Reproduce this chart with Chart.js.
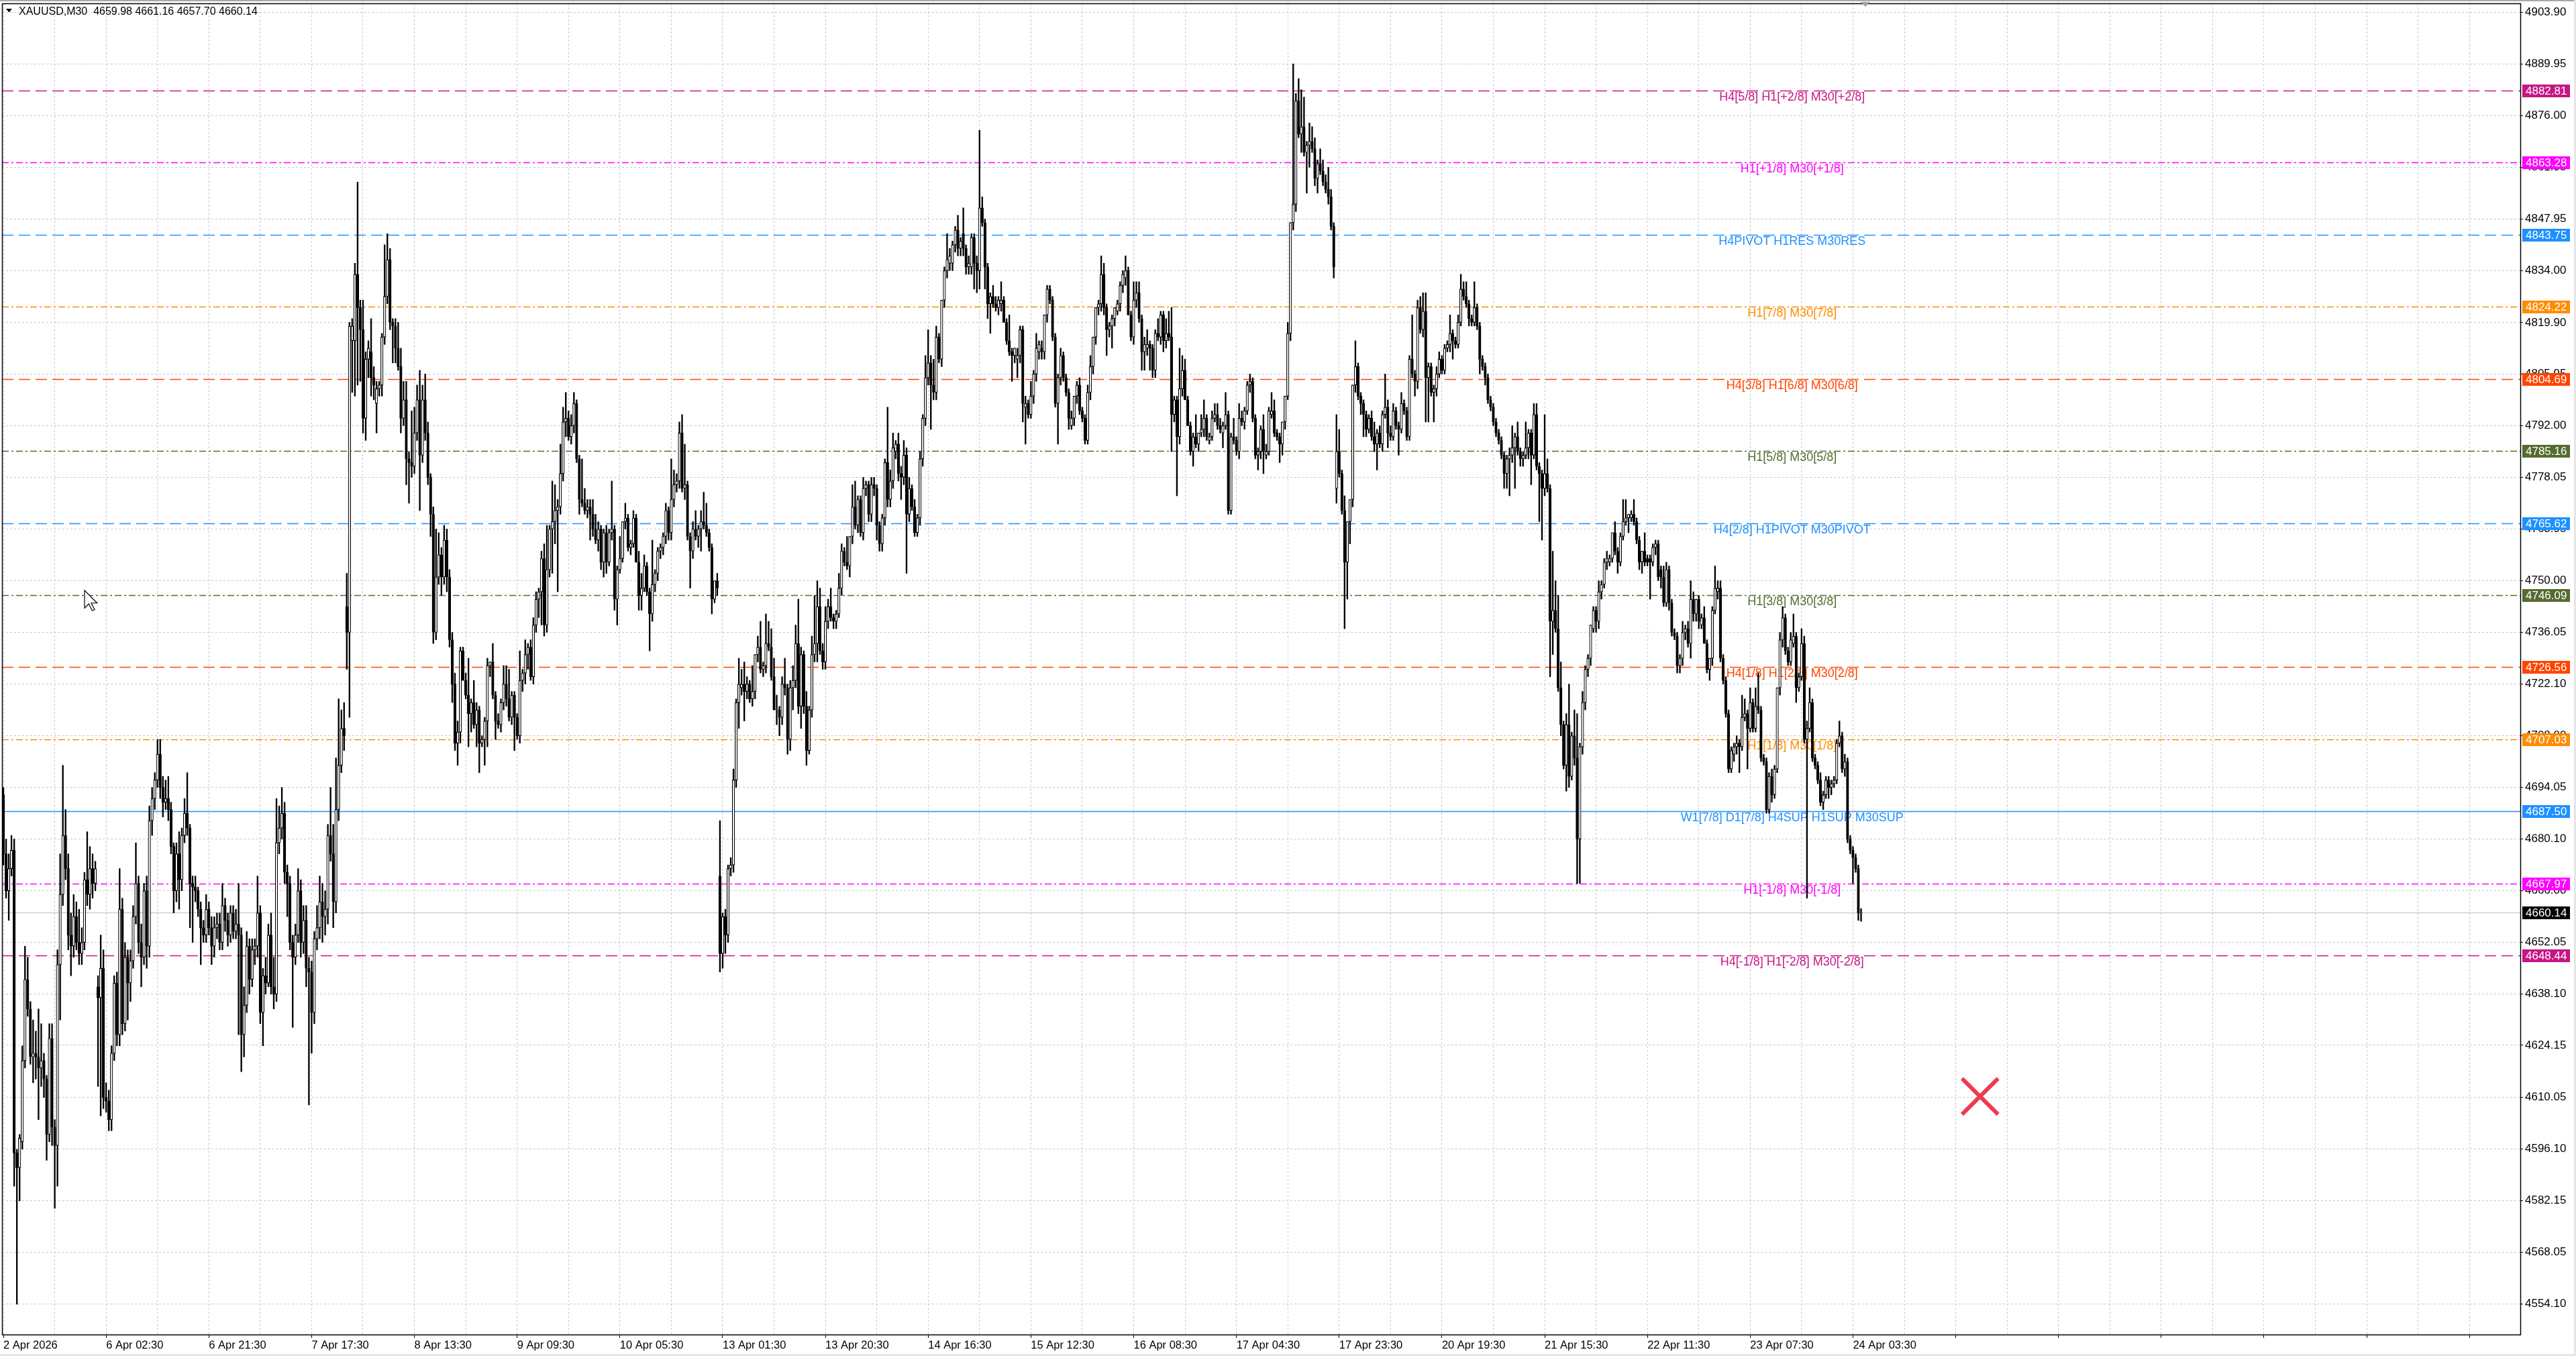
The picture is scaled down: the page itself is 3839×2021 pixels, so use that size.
<!DOCTYPE html>
<html>
<head>
<meta charset="utf-8">
<title>XAUUSD,M30</title>
<script src="https://cdn.jsdelivr.net/npm/chart.js"></script>
<style>
html, body { margin: 0; padding: 0; background: #fff; }
#wrap { position: relative; width: 3839px; height: 2021px; overflow: hidden; }
#chart { position: absolute; left: 0; top: 0; }
#caption { position: absolute; left: 28px; top: 9px; font: 16px/16px "Liberation Sans", Arial, sans-serif; color: #000; white-space: pre; }
</style>
</head>
<body>
<div id="wrap">
	<canvas id="chart" width="3839" height="2021"></canvas>
	<div id="caption">XAUUSD,M30  4659.98 4661.16 4657.70 4660.14</div>
</div>
<script>
// time axis labels, one every 38 bars
var dateLabels = ["2 Apr 2026", "6 Apr 02:30", "6 Apr 21:30", "7 Apr 17:30", "8 Apr 13:30", "9 Apr 09:30",
	"10 Apr 05:30", "13 Apr 01:30", "13 Apr 20:30", "14 Apr 16:30", "15 Apr 12:30", "16 Apr 08:30",
	"17 Apr 04:30", "17 Apr 23:30", "20 Apr 19:30", "21 Apr 15:30", "22 Apr 11:30", "23 Apr 07:30", "24 Apr 03:30"];
var barsPerLabel = 38;

// price scale labels on the right
var yTickValues = [4903.90, 4889.95, 4876.00, 4861.95, 4847.95, 4834.00, 4819.90, 4805.95, 4792.00, 4778.05,
	4763.95, 4750.00, 4736.05, 4722.10, 4708.00, 4694.05, 4680.10, 4666.00, 4652.05, 4638.10, 4624.15,
	4610.05, 4596.10, 4582.15, 4568.05, 4554.10];

// murrey math levels
var levelPrices = [4882.81, 4863.28, 4843.75, 4824.22, 4804.69, 4785.16, 4765.62, 4746.09, 4726.56, 4707.03, 4687.50, 4667.97, 4648.44];
var levelNames = ["H4[5/8] H1[+2/8] M30[+2/8]", "H1[+1/8] M30[+1/8]", "H4PIVOT H1RES M30RES", "H1[7/8] M30[7/8]",
	"H4[3/8] H1[6/8] M30[6/8]", "H1[5/8] M30[5/8]", "H4[2/8] H1PIVOT M30PIVOT", "H1[3/8] M30[3/8]",
	"H4[1/8] H1[2/8] M30[2/8]", "H1[1/8] M30[1/8]", "W1[7/8] D1[7/8] H4SUP H1SUP M30SUP", "H1[-1/8] M30[-1/8]",
	"H4[-1/8] H1[-2/8] M30[-2/8]"];
var levelColors = ["#C71585", "#FF00FF", "#1E90FF", "#FF8C00", "#FF4500", "#556B2F", "#1E90FF", "#556B2F",
	"#FF4500", "#FF8C00", "#1E90FF", "#FF00FF", "#C71585"];
var levelStyles = ["dash", "dashdot", "dash", "dashdot", "dash", "dashdot", "dash", "dashdot", "dash", "dashdot", "solid", "dashdot", "dash"];
var levelTextBar = 661.5;

var currentPrice = 4660.14;
var closeMark = [731, 4610.3];   // red cross object [bar, price]

// candles: [open, high, low, close]
var thuApr2 = [
	[4692,4694,4673,4676],[4676,4680,4664,4666],[4666,4676,4658,4672],[4672,4681,4670,4677],[4677,4680,4586,4595],
	[4595,4596,4554,4591],[4591,4600,4582,4599],[4598,4624,4596,4620],[4620,4651,4618,4642],[4642,4648,4632,4634],
	[4634,4636,4619,4621],[4621,4631,4614,4622],[4622,4628,4615,4621],[4621,4634,4604,4618],[4618,4630,4613,4620],
	[4620,4622,4610,4615],[4615,4616,4593,4600],[4600,4630,4598,4626],[4626,4630,4597,4602],[4602,4604,4580,4597],
	[4597,4650,4586,4646],[4646,4676,4631,4665],[4665,4700,4662,4681],[4681,4688,4669,4672],[4672,4676,4650,4654],
	[4654,4660,4643,4651],[4651,4665,4648,4659],[4659,4663,4650,4652],[4652,4661,4646,4649],[4649,4656,4646,4652],
	[4652,4671,4650,4669],[4669,4682,4662,4665],[4665,4678,4661,4672],[4672,4676,4664,4668],[4668,4674,4666,4672]
];
var weekApr6 = [
	[4640,4643,4613,4637],[4637,4654,4605,4645],[4645,4650,4607,4610],[4610,4614,4606,4609],[4609,4612,4601,4604],[4604,4624,4601,4622],[4622,4643,4620,4641],[4641,4644,4624,4627],[4627,4672,4624,4661],[4661,4664,4627,4630],
	[4630,4652,4628,4648],[4648,4650,4631,4641],[4641,4650,4636,4647],[4647,4662,4645,4659],[4659,4679,4657,4668],[4668,4670,4649,4652],[4652,4657,4640,4648],[4648,4668,4646,4666],[4666,4670,4645,4651],[4651,4689,4648,4685],
	[4685,4694,4681,4691],[4691,4698,4688,4696],[4696,4707,4694,4703],[4703,4707,4691,4694],[4694,4697,4686,4690],[4690,4696,4688,4691],[4691,4697,4685,4688],[4688,4690,4676,4678],[4678,4679,4660,4666],[4666,4679,4663,4676],
	[4676,4682,4661,4669],[4669,4683,4666,4681],[4681,4691,4679,4687],[4687,4698,4681,4683],[4683,4684,4656,4668],[4668,4670,4652,4667],[4667,4670,4663,4666],[4666,4667,4659,4661],[4661,4663,4646,4656],[4656,4658,4652,4654],
	[4654,4665,4652,4661],[4661,4663,4654,4656],[4656,4659,4646,4651],[4651,4659,4648,4656],[4656,4660,4653,4657],[4657,4660,4650,4652],[4652,4668,4650,4662],[4662,4664,4655,4658],[4658,4660,4651,4654],[4654,4662,4652,4660],
	[4660,4662,4653,4655],[4655,4661,4653,4657],[4657,4668,4627,4654],[4654,4656,4617,4627],[4627,4640,4621,4635],[4635,4655,4633,4651],[4651,4653,4638,4642],[4642,4653,4640,4650],[4650,4653,4646,4651],[4651,4670,4648,4660],
	[4660,4662,4630,4633],[4633,4645,4624,4643],[4643,4648,4638,4641],[4641,4657,4640,4654],[4654,4660,4638,4640],[4640,4648,4634,4638],[4638,4691,4636,4679],[4679,4689,4676,4683],[4683,4694,4680,4687],[4687,4690,4668,4671],
	[4671,4673,4659,4668],[4668,4670,4650,4652],[4652,4654,4629,4648],[4648,4657,4646,4654],[4654,4672,4652,4666],[4666,4669,4648,4652],[4652,4662,4649,4658],[4658,4662,4640,4645],[4645,4648,4608,4644],[4644,4647,4622,4633],
	[4633,4655,4630,4653],[4653,4662,4650,4656],[4656,4670,4653,4663],[4663,4668,4652,4659],[4659,4666,4654,4661],[4661,4684,4657,4681],[4681,4694,4674,4676],[4676,4684,4656,4663],[4663,4702,4660,4688],[4688,4718,4685,4700],
	[4700,4715,4698,4710],[4710,4717,4704,4708],[4743,4752,4726,4736],[4736,4820,4713,4819],[4815,4821,4801,4819],[4815,4836,4800,4833],[4833,4858,4803,4824],[4824,4826,4804,4818],[4818,4826,4790,4794],[4794,4812,4788,4810],
	[4810,4815,4805,4813],[4812,4821,4800,4805],[4805,4808,4799,4803],[4798,4804,4790,4802],[4802,4804,4800,4803],[4803,4817,4800,4816],[4816,4841,4814,4827],[4827,4844,4825,4837],[4837,4840,4818,4820],[4820,4821,4809,4819],
	[4819,4821,4809,4813],[4813,4820,4807,4808],[4808,4813,4790,4794],[4794,4804,4792,4799],[4799,4804,4776,4783],[4783,4785,4771,4782],[4782,4796,4778,4781],[4781,4797,4779,4790],[4790,4803,4788,4799],[4799,4807,4769,4784],
	[4784,4803,4782,4799],[4799,4806,4788,4790],[4790,4793,4776,4778],[4778,4779,4762,4768],[4768,4770,4733,4736],[4736,4764,4734,4751],[4751,4763,4749,4757],[4757,4759,4746,4751],[4751,4765,4749,4761],[4761,4764,4747,4751],
	[4751,4753,4732,4734],[4734,4736,4717,4722],[4722,4725,4704,4706],[4706,4712,4700,4709],[4709,4732,4706,4731],[4731,4732,4723,4723],[4723,4725,4718,4719],[4719,4729,4705,4714],[4714,4718,4709,4717],[4717,4723,4710,4711],
	[4711,4717,4705,4715],[4715,4716,4698,4706],[4706,4708,4705,4707],[4707,4713,4700,4712],[4712,4729,4705,4727],[4727,4728,4724,4728],[4728,4733,4718,4719],[4719,4720,4707,4712],[4712,4714,4710,4711],[4711,4718,4709,4717],
	[4717,4727,4715,4722],[4722,4727,4716,4718],[4718,4726,4712,4713],[4713,4720,4711,4719],[4719,4720,4704,4713],[4713,4714,4707,4708],[4708,4731,4706,4723],[4723,4726,4720,4725],[4725,4734,4722,4730],[4730,4733,4726,4732],
	[4732,4734,4723,4724],[4724,4740,4722,4738],[4738,4747,4736,4745],[4745,4748,4740,4747],[4747,4758,4738,4756],[4756,4760,4735,4738],[4738,4765,4736,4753],[4753,4765,4751,4764],[4764,4777,4752,4766],[4766,4776,4760,4769],
	[4769,4772,4747,4770],[4770,4787,4768,4779],[4779,4797,4777,4793],[4793,4801,4789,4794],[4794,4796,4788,4789],[4789,4795,4787,4792],[4792,4801,4790,4798],[4798,4799,4782,4783],[4783,4784,4768,4772],[4772,4783,4770,4771],
	[4771,4775,4768,4769],[4769,4772,4767,4770],[4770,4772,4761,4768],[4768,4772,4762,4764],[4764,4768,4760,4761],[4761,4766,4758,4764],[4764,4765,4753,4755],[4755,4764,4751,4763],[4763,4765,4752,4755],[4755,4764,4754,4763],
	[4763,4777,4761,4764],[4764,4765,4742,4745],[4745,4754,4738,4753],[4753,4762,4752,4756],[4756,4766,4755,4766],[4766,4771,4764,4767],[4767,4768,4758,4759],[4759,4761,4757,4760],[4760,4769,4759,4767],[4767,4768,4755,4755],
	[4755,4758,4742,4746],[4746,4752,4742,4748],[4748,4757,4747,4754],[4754,4755,4746,4747],[4747,4748,4731,4741],[4741,4761,4739,4749],[4749,4753,4747,4752],[4752,4759,4750,4758],[4758,4760,4756,4759],[4759,4763,4757,4762],
	[4762,4771,4760,4769],[4769,4770,4761,4763],[4763,4783,4761,4772],[4772,4780,4770,4776],[4776,4779,4774,4777],[4777,4793,4775,4790],[4790,4795,4774,4775],[4775,4787,4772,4776],[4776,4777,4761,4762],[4762,4763,4748,4758],
	[4758,4766,4756,4764],[4764,4769,4761,4762],[4762,4765,4759,4764],[4764,4769,4758,4766],[4766,4774,4764,4765],[4765,4771,4762,4763],[4763,4764,4758,4759],[4759,4760,4741,4745],[4745,4750,4744,4750],[4750,4752,4746,4748]
];
var weekApr13 = [
	[4670,4685,4644,4649],[4649,4660,4645,4659],[4659,4661,4649,4654],[4654,4673,4652,4672],[4672,4675,4670,4673],[4673,4699,4671,4696],[4696,4718,4694,4717],[4717,4729,4710,4722],[4721,4726,4719,4722],[4722,4728,4712,4720],
	[4720,4724,4718,4722],[4722,4723,4717,4718],[4718,4727,4716,4720],[4720,4730,4718,4730],[4730,4735,4728,4732],[4732,4739,4725,4726],[4726,4728,4724,4727],[4727,4741,4725,4733],[4733,4739,4731,4732],[4732,4737,4723,4724],
	[4724,4729,4715,4715],[4715,4719,4711,4715],[4715,4716,4708,4713],[4713,4724,4711,4722],[4722,4729,4719,4721],[4721,4722,4703,4707],[4707,4723,4704,4721],[4721,4727,4715,4723],[4723,4738,4721,4733],[4733,4745,4714,4716],
	[4716,4732,4710,4730],[4730,4731,4714,4716],[4716,4720,4700,4704],[4704,4716,4703,4715],[4715,4735,4713,4730],[4730,4746,4728,4733],[4733,4750,4728,4743],[4743,4748,4730,4731],[4731,4733,4726,4728],[4728,4743,4726,4739],
	[4739,4745,4737,4743],[4743,4748,4739,4740],[4740,4741,4737,4739],[4739,4742,4737,4741],[4741,4752,4740,4748],[4748,4760,4746,4758],[4758,4759,4754,4755],[4755,4762,4753,4754],[4754,4762,4751,4762],[4762,4776,4760,4770],
	[4770,4777,4764,4765],[4765,4773,4763,4772],[4772,4773,4762,4763],[4763,4778,4761,4775],[4775,4777,4773,4776],[4776,4777,4766,4768],[4768,4778,4766,4776],[4776,4778,4773,4775],[4775,4776,4761,4765],[4765,4766,4758,4760],
	[4760,4768,4758,4767],[4767,4783,4765,4782],[4782,4797,4770,4772],[4772,4780,4770,4777],[4777,4790,4775,4786],[4785,4788,4783,4787],[4787,4790,4777,4779],[4779,4781,4772,4778],[4778,4788,4776,4784],[4784,4786,4752,4768],
	[4768,4778,4766,4775],[4775,4776,4769,4770],[4770,4772,4762,4763],[4763,4768,4762,4767],[4767,4785,4765,4783],[4783,4795,4781,4794],[4794,4811,4792,4805],[4805,4818,4803,4809],[4809,4811,4791,4803],[4803,4810,4799,4801],
	[4801,4819,4799,4816],[4816,4817,4809,4810],[4810,4826,4808,4826],[4826,4835,4824,4834],[4834,4844,4832,4837],[4836,4840,4834,4838],[4836,4842,4834,4841],[4841,4846,4839,4845],[4845,4849,4838,4840],[4840,4843,4838,4842],
	[4844,4851,4838,4840],[4840,4841,4833,4835],[4835,4838,4833,4836],[4835,4844,4833,4843],[4843,4844,4829,4836],[4836,4838,4828,4834],[4834,4872,4829,4851],[4851,4854,4846,4847],[4847,4848,4829,4835],[4835,4836,4821,4825],
	[4825,4828,4817,4827],[4827,4830,4824,4825],[4825,4827,4823,4824],[4824,4827,4822,4826],[4825,4831,4823,4826],[4826,4827,4820,4820],[4820,4821,4814,4815],[4815,4822,4811,4812],[4812,4813,4804,4811],[4811,4813,4809,4813],
	[4810,4813,4805,4811],[4811,4819,4809,4818],[4818,4819,4793,4798],[4797,4800,4787,4798],[4798,4799,4794,4795],[4795,4804,4794,4800],[4800,4807,4798,4806],[4806,4817,4804,4813],[4812,4815,4810,4814],[4813,4815,4810,4812],
	[4812,4822,4810,4822],[4822,4830,4820,4829],[4829,4830,4825,4826],[4826,4827,4815,4816],[4816,4817,4797,4798],[4798,4806,4787,4805],[4805,4813,4803,4811],[4811,4812,4804,4805],[4805,4806,4800,4801],[4801,4802,4791,4794],
	[4792,4796,4791,4794],[4794,4800,4792,4800],[4800,4804,4798,4803],[4803,4805,4795,4796],[4796,4797,4793,4794],[4794,4795,4787,4788],[4788,4803,4787,4801],[4801,4811,4799,4808],[4808,4816,4806,4816],[4816,4824,4814,4824],
	[4824,4826,4822,4825],[4825,4838,4823,4833],[4833,4836,4822,4824],[4824,4825,4811,4818],[4818,4820,4816,4819],[4819,4822,4813,4821],[4821,4824,4819,4824],[4823,4826,4822,4825],[4825,4831,4823,4830],[4830,4834,4828,4833],
	[4832,4838,4830,4834],[4834,4835,4822,4822],[4822,4823,4815,4816],[4816,4831,4814,4826],[4826,4831,4824,4828],[4828,4831,4820,4821],[4821,4822,4807,4812],[4812,4816,4807,4814],[4813,4818,4811,4814],[4814,4815,4807,4813],
	[4813,4814,4805,4807],[4807,4818,4805,4817],[4817,4821,4815,4816],[4816,4823,4814,4822],[4822,4823,4812,4815],[4815,4821,4813,4817],[4817,4823,4815,4816],[4816,4824,4785,4795],[4795,4800,4793,4799],[4799,4800,4773,4789],
	[4789,4813,4787,4802],[4802,4811,4800,4807],[4807,4810,4799,4799],[4799,4800,4792,4792],[4792,4793,4784,4785],[4785,4790,4781,4789],[4789,4795,4786,4787],[4787,4790,4785,4790],[4790,4795,4789,4791],[4791,4799,4789,4794],
	[4794,4795,4788,4789],[4788,4790,4787,4789],[4789,4796,4788,4794],[4794,4798,4793,4795],[4795,4798,4791,4792],[4792,4794,4790,4791],[4790,4793,4786,4792],[4792,4801,4791,4795],[4795,4796,4768,4769],[4769,4790,4768,4789],
	[4789,4794,4787,4788],[4788,4789,4784,4785],[4785,4798,4783,4794],[4794,4796,4792,4793],[4793,4797,4791,4796],[4796,4804,4795,4803],[4803,4806,4801,4804],[4804,4805,4793,4794],[4794,4795,4783,4784],[4784,4786,4780,4785],
	[4785,4792,4783,4791],[4791,4795,4779,4785],[4784,4787,4783,4785],[4785,4797,4784,4796],[4795,4801,4794,4796],[4796,4799,4789,4790],[4790,4791,4788,4789],[4789,4790,4782,4787],[4787,4793,4784,4793],[4793,4800,4791,4800],
	[4800,4820,4799,4817],[4817,4847,4815,4847],[4847,4890,4845,4852],[4852,4882,4850,4880],[4880,4886,4870,4871],[4871,4883,4866,4873],[4873,4881,4865,4866],[4866,4869,4855,4868],[4868,4874,4862,4869],[4869,4873,4866,4867],
	[4867,4870,4857,4859],[4859,4864,4855,4863],[4863,4867,4860,4861],[4861,4864,4857,4858],[4858,4860,4855,4856],[4856,4862,4852,4854],[4854,4856,4845,4846],[4846,4847,4832,4835]
];
var weekApr20 = [
	[4775,4795,4771,4785],[4785,4791,4778,4779],[4779,4780,4768,4769],[4769,4773,4737,4755],[4755,4766,4745,4766],[4766,4772,4760,4772],[4772,4803,4770,4803],[4803,4815,4801,4808],[4808,4809,4799,4800],[4800,4801,4795,4798],
	[4798,4799,4789,4795],[4795,4796,4789,4791],[4791,4795,4790,4794],[4794,4796,4788,4789],[4789,4793,4785,4787],[4787,4791,4780,4790],[4790,4792,4786,4787],[4787,4796,4785,4795],[4795,4806,4794,4797],[4797,4799,4786,4790],
	[4790,4792,4788,4789],[4789,4798,4788,4796],[4796,4797,4791,4792],[4792,4793,4784,4791],[4791,4801,4790,4798],[4798,4799,4795,4796],[4796,4797,4788,4789],[4789,4811,4788,4810],[4810,4822,4805,4806],[4806,4807,4800,4804],
	[4804,4826,4802,4824],[4824,4827,4817,4818],[4818,4828,4816,4823],[4823,4828,4793,4805],[4805,4809,4793,4808],[4808,4809,4800,4801],[4801,4803,4793,4802],[4802,4808,4800,4806],[4806,4812,4805,4810],[4810,4811,4806,4807],
	[4807,4814,4806,4813],[4813,4815,4812,4814],[4814,4822,4812,4817],[4817,4818,4810,4815],[4815,4816,4813,4814],[4814,4822,4813,4820],[4820,4833,4819,4829],[4829,4831,4826,4827],[4827,4831,4824,4825],[4825,4826,4819,4821],
	[4821,4822,4819,4820],[4820,4831,4819,4824],[4824,4825,4818,4819],[4819,4820,4806,4810],[4810,4811,4807,4808],[4808,4809,4803,4805],[4805,4806,4798,4799],[4799,4800,4796,4797],[4797,4798,4792,4793],[4793,4794,4789,4790],
	[4790,4791,4787,4788],[4788,4789,4783,4784],[4784,4785,4775,4779],[4779,4784,4775,4783],
	[4783,4786,4773,4784],[4784,4792,4782,4786],[4786,4790,4775,4789],[4789,4793,4784,4785],[4785,4786,4781,4783],[4783,4785,4781,4784],[4784,4793,4783,4786],[4786,4791,4783,4790],[4790,4791,4776,4784],[4784,4798,4783,4795],
	[4795,4798,4780,4781],[4781,4782,4766,4779],[4779,4780,4761,4775],[4775,4795,4773,4779],[4779,4783,4774,4775],[4775,4776,4724,4739],[4739,4758,4730,4742],[4742,4750,4736,4737],[4737,4746,4720,4721],[4721,4728,4708,4711],
	[4711,4712,4699,4700],[4700,4714,4693,4711],[4711,4722,4694,4697],[4697,4709,4696,4708],[4708,4715,4700,4702],[4702,4714,4668,4680],[4680,4706,4668,4705],[4705,4720,4703,4717],[4717,4727,4715,4726],[4726,4730,4724,4729],
	[4729,4738,4727,4738],[4737,4743,4736,4742],[4742,4743,4736,4739],[4739,4750,4737,4747],[4747,4750,4745,4749],[4749,4756,4748,4755],[4755,4758,4753,4756],[4755,4757,4754,4756],[4756,4763,4755,4763],[4763,4766,4757,4758],
	[4758,4759,4752,4755],[4755,4763,4754,4762],[4762,4772,4761,4766],[4766,4772,4765,4767],[4767,4768,4763,4768],[4767,4769,4766,4768],[4768,4772,4765,4766],[4766,4767,4760,4761],[4761,4762,4753,4755],[4755,4758,4752,4758],
	[4758,4763,4754,4755],[4756,4757,4754,4755],[4756,4757,4745,4755],[4755,4760,4754,4759],[4759,4761,4757,4760],[4760,4761,4750,4751],[4753,4754,4748,4751],[4751,4754,4743,4744],[4744,4755,4743,4753],[4753,4754,4742,4744],
	[4744,4745,4735,4736],[4736,4737,4734,4735],[4735,4736,4725,4727],[4727,4730,4725,4729],[4729,4739,4727,4736],[4736,4738,4734,4737],[4737,4739,4732,4733],[4733,4750,4729,4745],[4745,4747,4739,4741],[4741,4745,4739,4745],
	[4745,4746,4737,4739],[4738,4741,4737,4740],[4740,4743,4733,4733],[4733,4734,4725,4726],[4726,4729,4723,4729],[4729,4743,4727,4742],[4742,4754,4741,4748],[4747,4750,4745,4748],[4748,4750,4728,4729],[4729,4730,4722,4723],
	[4723,4724,4713,4714],[4714,4715,4698,4699],[4699,4705,4698,4704],[4703,4706,4701,4705],[4705,4708,4703,4706],[4706,4707,4698,4705],[4705,4719,4704,4713],[4713,4718,4712,4714],[4714,4715,4699,4710],[4710,4721,4709,4717],
	[4717,4718,4709,4710],[4710,4721,4709,4716],[4716,4725,4714,4715],[4715,4716,4701,4702],[4702,4703,4700,4701],[4701,4702,4687,4688],[4688,4698,4687,4697],[4697,4699,4690,4692],[4692,4700,4691,4699],[4699,4721,4698,4721],
	[4721,4736,4719,4734],[4734,4743,4732,4740],[4740,4741,4730,4731],[4731,4732,4727,4728],[4728,4736,4727,4734],[4733,4741,4732,4735],[4735,4736,4717,4721],[4721,4725,4720,4724],[4724,4737,4723,4733],[4733,4735,4706,4707],
	[4707,4712,4664,4710],[4710,4721,4709,4717],[4717,4718,4701,4702],[4702,4703,4699,4700],[4700,4701,4695,4696],[4696,4698,4689,4690],[4690,4693,4688,4692],[4692,4697,4691,4696],[4696,4697,4691,4694],[4694,4696,4692,4695],
	[4695,4697,4694,4696],[4696,4707,4695,4706],[4706,4712,4705,4708],[4708,4709,4698,4699],[4699,4703,4697,4701],[4701,4702,4679,4680],[4680,4681,4676,4677],[4677,4678,4668,4675],[4675,4676,4671,4672],[4672,4673,4658,4660],
	[4659.98,4661.16,4657.70,4660.14]
];

// visible window
var xMin = -0.5, xMax = 930.8;
var yMin = 4545.8, yMax = 4906.4;

var dashes = { dash: [17, 8], dashdot: [10, 4, 3, 4], solid: [] };
var fontFamily = '"Liberation Sans", Arial, sans-serif';

var levelsPlugin = {
	id: 'levels',
	beforeDatasetsDraw: function(chart) {
		var c = chart.ctx, a = chart.chartArea, ys = chart.scales.y, xs = chart.scales.x;
		c.save();
		c.beginPath();
		c.rect(a.left, a.top, a.right - a.left, a.bottom - a.top);
		c.clip();
		// bid line
		var py = Math.round(ys.getPixelForValue(currentPrice)) + 0.5;
		c.strokeStyle = '#BEBEBE';
		c.lineWidth = 1;
		c.setLineDash([]);
		c.beginPath(); c.moveTo(a.left, py); c.lineTo(a.right, py); c.stroke();
		var tx = xs.getPixelForValue(levelTextBar);
		c.font = '18px ' + fontFamily;
		c.textAlign = 'center';
		c.textBaseline = 'alphabetic';
		for (var k = 0; k < levelPrices.length; k++) {
			var ly = Math.round(ys.getPixelForValue(levelPrices[k])) + 0.5;
			c.strokeStyle = levelColors[k];
			c.lineWidth = 1.3;
			c.setLineDash(dashes[levelStyles[k]]);
			c.beginPath(); c.moveTo(a.left, ly); c.lineTo(a.right, ly); c.stroke();
			c.fillStyle = levelColors[k];
			c.fillText(levelNames[k], tx, ly + 14);
		}
		c.restore();
	},
	afterDraw: function(chart) {
		var c = chart.ctx, a = chart.chartArea, ys = chart.scales.y;
		c.save();
		c.setLineDash([]);
		// window edges
		c.fillStyle = '#A9A9A9';
		c.fillRect(0, 0, chart.width, 2);
		c.fillStyle = '#E6E6E6';
		c.fillRect(chart.width - 3, 0, 3, chart.height);
		c.fillRect(0, chart.height - 3, chart.width, 3);
		// chart frame
		c.strokeStyle = '#000';
		c.lineWidth = 1.5;
		c.strokeRect(a.left + 0.5, a.top + 0.5, a.right - a.left, a.bottom - a.top);
		// price tags on the scale
		c.font = '17px ' + fontFamily;
		c.textAlign = 'left';
		c.textBaseline = 'middle';
		var tags = [];
		for (var k = 0; k < levelPrices.length; k++) tags.push([levelPrices[k], levelColors[k]]);
		tags.push([currentPrice, '#000000']);
		tags.forEach(function(t) {
			var yy = ys.getPixelForValue(t[0]);
			c.fillStyle = t[1];
			c.fillRect(a.right + 3, Math.round(yy) - 9, 71, 19);
			c.fillStyle = '#FFFFFF';
			c.fillText(t[0].toFixed(2), a.right + 8, Math.round(yy) + 1);
		});
		// title arrow
		c.fillStyle = '#000';
		c.beginPath(); c.moveTo(9, 13); c.lineTo(18, 13); c.lineTo(13.5, 18.5); c.closePath(); c.fill();
		// chart shift marker
		c.fillStyle = '#A0A0A0';
		c.beginPath(); c.moveTo(2773, 3); c.lineTo(2787, 3); c.lineTo(2780, 10); c.closePath(); c.fill();
		// mouse pointer
		var px = 126, pyy = 880, s = 1.25;
		var pts = [[0, 0], [0, 21], [5, 16], [9, 24], [12, 23], [8, 15], [15, 15]];
		c.beginPath();
		pts.forEach(function(p, i) {
			if (i === 0) c.moveTo(px + p[0] * s, pyy + p[1] * s); else c.lineTo(px + p[0] * s, pyy + p[1] * s);
		});
		c.closePath();
		c.fillStyle = '#fff'; c.fill();
		c.strokeStyle = '#000'; c.lineWidth = 1.2; c.stroke();
		c.restore();
	}
};

window.onload = function() {
	var candles = thuApr2.concat(weekApr6, weekApr13, weekApr20);
	var bodies = [], wicks = [], fills = [];
	candles.forEach(function(cd, i) {
		bodies.push({ x: i, y: [cd[0], cd[3]] });
		wicks.push({ x: i, y: [cd[2], cd[1]] });
		fills.push(cd[3] >= cd[0] ? '#FFFFFF' : '#000000');
	});

	Chart.defaults.font.family = fontFamily;
	Chart.defaults.color = '#000';

	var ctx = document.getElementById("chart").getContext("2d");
	window.myChart = new Chart(ctx, {
		type: 'bar',
		data: {
			datasets: [{
				type: 'scatter',
				data: [{ x: closeMark[0], y: closeMark[1] }],
				pointStyle: 'crossRot',
				pointRadius: 38,
				borderColor: '#F0394F',
				backgroundColor: '#F0394F',
				borderWidth: 6,
				order: 0
			}, {
				data: bodies,
				backgroundColor: fills,
				borderColor: '#000',
				borderWidth: 1.2,
				borderSkipped: false,
				barThickness: 3.6,
				minBarLength: 1.2,
				grouped: false,
				order: 1
			}, {
				data: wicks,
				backgroundColor: '#000',
				borderWidth: 0,
				barThickness: 1.7,
				grouped: false,
				order: 2
			}]
		},
		options: {
			responsive: false,
			animation: false,
			devicePixelRatio: 1,
			events: [],
			layout: { autoPadding: false, padding: { left: 3, top: 5, right: 0, bottom: 0 } },
			plugins: { legend: { display: false }, tooltip: { enabled: false } },
			scales: {
				x: {
					type: 'linear',
					position: 'bottom',
					min: xMin,
					max: xMax,
					offset: false,
					afterBuildTicks: function(scale) {
						var t = [];
						for (var v = 0; v <= xMax; v += barsPerLabel / 2) t.push({ value: v });
						scale.ticks = t;
					},
					afterFit: function(scale) {
						scale.height = 32;
						scale.paddingLeft = 0;
						scale.paddingRight = 0;
					},
					ticks: {
						autoSkip: false,
						maxRotation: 0,
						minRotation: 0,
						align: 'start',
						padding: 2,
						color: '#000',
						font: { size: 16.5 },
						callback: function(value) {
							var k = value / barsPerLabel;
							return (k % 1 === 0 && k < dateLabels.length) ? dateLabels[k] : '';
						}
					},
					grid: {
						offset: false,
						color: '#C8C8C8',
						lineWidth: 1,
						drawTicks: true,
						tickLength: 5,
						tickBorderDash: [],
						tickColor: function(c) {
							return (c.tick && c.tick.value % barsPerLabel === 0) ? '#000' : 'rgba(0,0,0,0)';
						}
					},
					border: { display: false, dash: [3, 3] }
				},
				y: {
					type: 'linear',
					position: 'right',
					min: yMin,
					max: yMax,
					beginAtZero: false,
					afterBuildTicks: function(scale) {
						scale.ticks = yTickValues.map(function(v) { return { value: v }; });
					},
					afterFit: function(scale) {
						scale.width = 83;
						scale.paddingTop = 0;
						scale.paddingBottom = 0;
					},
					ticks: {
						autoSkip: false,
						padding: 3,
						color: '#000',
						font: { size: 17 },
						callback: function(v) { return Number(v).toFixed(2); }
					},
					grid: {
						color: '#C8C8C8',
						lineWidth: 1,
						drawTicks: true,
						tickLength: 4,
						tickBorderDash: [],
						tickColor: '#000'
					},
					border: { display: false, dash: [3, 3] }
				}
			}
		},
		plugins: [levelsPlugin]
	});
};
</script>
</body>
</html>
